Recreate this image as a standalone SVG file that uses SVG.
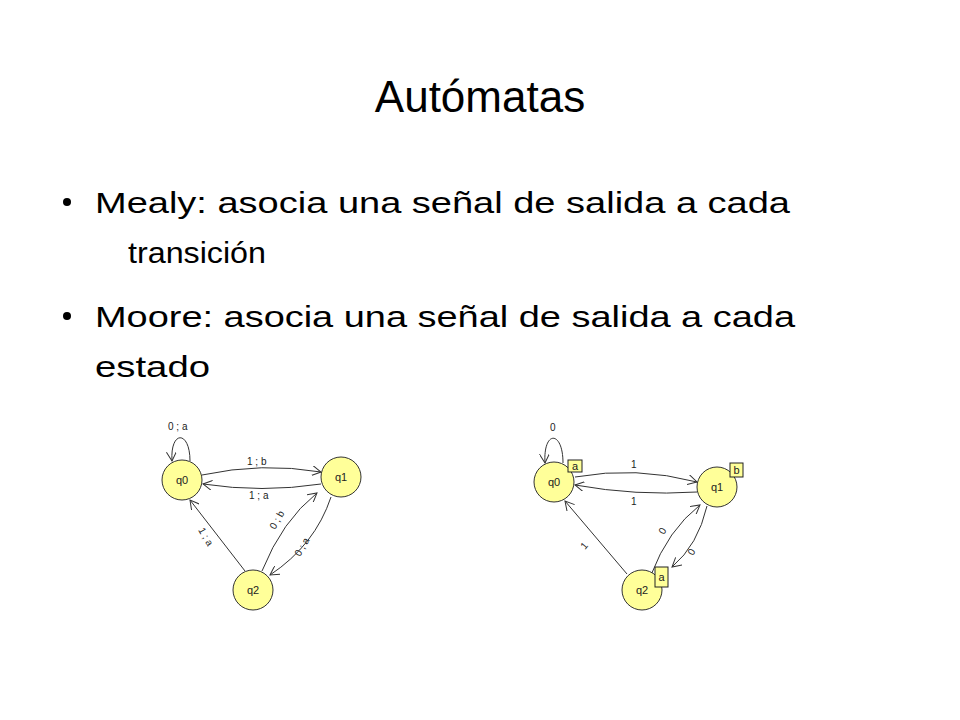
<svg xmlns="http://www.w3.org/2000/svg" width="960" height="720" viewBox="0 0 960 720">
<defs>
<style>
.t{font-family:"Liberation Sans",Arial,sans-serif;fill:#000}
.st{fill:#ffff99;stroke:#333;stroke-width:1}
.e{fill:none;stroke:#333;stroke-width:1;marker-end:url(#ah)}
.l{font-family:"Liberation Sans",Arial,sans-serif;font-size:10px;fill:#222}
.n{font-family:"Liberation Sans",Arial,sans-serif;font-size:11px;fill:#222;text-anchor:middle}
.b{fill:#ffff99;stroke:#222;stroke-width:1}
</style>
<marker id="ah" markerWidth="10" markerHeight="10" refX="9" refY="5" orient="auto" markerUnits="userSpaceOnUse"><path d="M0,0 L9,5 L0,10" fill="none" stroke="#333"/></marker>
</defs>
<rect width="960" height="720" fill="#fff"/>
<text class="t" x="480" y="112" font-size="44" text-anchor="middle">Autómatas</text>
<g class="t" font-size="30">
<circle cx="67" cy="202" r="4" fill="#000"/>
<text x="95" y="213" textLength="695" lengthAdjust="spacingAndGlyphs">Mealy: asocia una señal de salida a cada</text>
<text x="128" y="263" textLength="138" lengthAdjust="spacingAndGlyphs">transición</text>
<circle cx="67" cy="316" r="4" fill="#000"/>
<text x="95" y="327" textLength="700" lengthAdjust="spacingAndGlyphs">Moore: asocia una señal de salida a cada</text>
<text x="95" y="377" textLength="115" lengthAdjust="spacingAndGlyphs">estado</text>
</g>
<g id="connectors">
<path class="e" d="M190,461 C190,430 170,430 172,461"/>
<path class="e" d="M202,475 Q262,462 321,472"/>
<path class="e" d="M321,484 Q262,493 203,484"/>
<path class="e" d="M245,571 L190,500"/>
<path class="e" d="M262,571 Q282,521 317,493"/>
<path class="e" d="M331,497 Q315,545 270,575"/>
<path class="e" d="M563,463 C563,430 543,430 545,463"/>
<path class="e" d="M575,477 Q636,466 697,482"/>
<path class="e" d="M697,492 Q636,496 575,485"/>
<path class="e" d="M627,574 L565,501"/>
<path class="e" d="M651,575 Q668,530 700,505"/>
<path class="e" d="M707,506 Q698,545 672,567"/>
</g>
<g id="elabels">
<text class="l" x="168" y="430">0 ; a</text>
<text class="l" x="247" y="465">1 ; b</text>
<text class="l" x="249" y="499">1 ; a</text>
<text class="l" transform="translate(198,530) rotate(60)">1 ; a</text>
<text class="l" transform="translate(275,530) rotate(-60)">0 ; b</text>
<text class="l" transform="translate(300,557) rotate(-60)">0 ; a</text>
<text class="l" x="550" y="431">0</text>
<text class="l" x="631" y="468">1</text>
<text class="l" x="631" y="505">1</text>
<text class="l" transform="translate(585,550) rotate(-50)">1</text>
<text class="l" transform="translate(664,535) rotate(-60)">0</text>
<text class="l" transform="translate(693,556) rotate(-60)">0</text>
</g>
<g id="m_q0"><circle class="st" cx="182" cy="480" r="20"/><text class="n" x="182" y="484">q0</text></g>
<g id="m_q1"><circle class="st" cx="341" cy="477" r="20"/><text class="n" x="341" y="481">q1</text></g>
<g id="m_q2"><circle class="st" cx="253" cy="590" r="20"/><text class="n" x="253" y="594">q2</text></g>
<g id="r_q0"><circle class="st" cx="554" cy="482" r="20"/><text class="n" x="554" y="486">q0</text><rect class="b" x="568" y="460" width="14" height="12"/><text class="n" x="575" y="470">a</text></g>
<g id="r_q1"><circle class="st" cx="717" cy="487" r="20"/><text class="n" x="717" y="491">q1</text><rect class="b" x="730" y="463" width="13" height="14"/><text class="n" x="736.5" y="474">b</text></g>
<g id="r_q2"><circle class="st" cx="642" cy="590" r="20"/><text class="n" x="642" y="594">q2</text><rect class="b" x="655" y="567" width="13" height="20"/><text class="n" x="661.5" y="581">a</text></g>
</svg>
